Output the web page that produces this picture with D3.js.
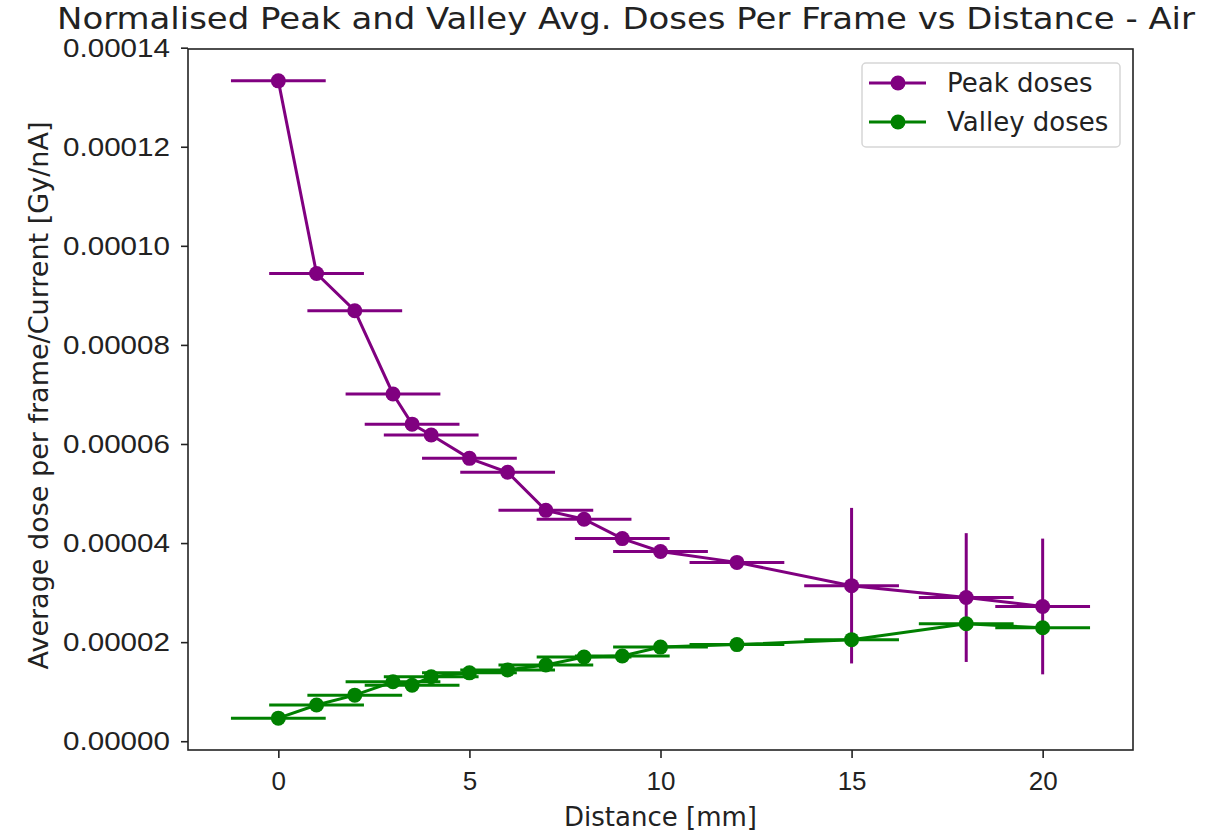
<!DOCTYPE html>
<html>
<head>
<meta charset="utf-8">
<script src="https://cdn.jsdelivr.net/npm/d3@7"></script>
<style>
  html, body { margin: 0; padding: 0; background: #fff; }
  svg { display: block; font-family: 'DejaVu Sans', sans-serif; }
  .tick text { font-size: 26px; fill: #222; }
</style>
</head>
<body>
<div id="chart"></div>
<script>
// distance (mm) and normalised doses
const distance   = [0, 1, 2, 3, 3.5, 4, 5, 6, 7, 8, 9, 10, 12, 15, 18, 20];
const distErr    = [1.24, 1.24, 1.24, 1.24, 1.24, 1.24, 1.24, 1.24, 1.24, 1.24, 1.24, 1.24, 1.24, 1.24, 1.24, 1.24];
const peakDose   = [1.333e-4, 9.44e-5, 8.69e-5, 7.01e-5, 6.40e-5, 6.18e-5, 5.71e-5, 5.43e-5,
                    4.66e-5, 4.48e-5, 4.09e-5, 3.83e-5, 3.61e-5, 3.14e-5, 2.90e-5, 2.72e-5];
const peakErr    = [0, 0, 0, 0, 0, 0, 0, 0, 0, 0, 0, 0, 0, 1.57e-5, 1.30e-5, 1.37e-5];
const valleyDose = [4.66e-6, 7.3e-6, 9.3e-6, 1.20e-5, 1.13e-5, 1.30e-5, 1.38e-5, 1.44e-5,
                    1.54e-5, 1.70e-5, 1.72e-5, 1.90e-5, 1.95e-5, 2.05e-5, 2.37e-5, 2.29e-5];
const valleyErr  = [0, 0, 0, 0, 0, 0, 0, 0, 0, 0, 0, 0, 0, 0, 0, 0];
const xTicks = [0, 5, 10, 15, 20];
const yTicks = [0, 2e-5, 4e-5, 6e-5, 8e-5, 1e-4, 1.2e-4, 1.4e-4];

const W = 1223, H = 834;
const frame = { left: 188, right: 1133, top: 49, bottom: 750 };

const series = [
  { name: 'Peak doses',   color: 'purple', y: peakDose,   e: peakErr },
  { name: 'Valley doses', color: 'green',  y: valleyDose, e: valleyErr }
].map(s => ({
  ...s,
  pts: distance.map((d, i) => ({ x: d, xe: distErr[i], y: s.y[i], ye: s.e[i] }))
}));

/* ─── scales (matplotlib style 5% margins) ─────────────────────────── */
const allPts = series.flatMap(s => s.pts);
const xMin = d3.min(allPts, p => p.x - p.xe), xMax = d3.max(allPts, p => p.x + p.xe);
const yMin = d3.min(allPts, p => p.y - p.ye), yMax = d3.max(allPts, p => p.y + p.ye);
const xPad = (xMax - xMin) * 0.05, yPad = (yMax - yMin) * 0.05;

const x = d3.scaleLinear().domain([xMin - xPad, xMax + xPad]).range([frame.left, frame.right]);
const y = d3.scaleLinear().domain([yMin - yPad, yMax + yPad]).range([frame.bottom, frame.top]);

const svg = d3.select('#chart').append('svg')
  .attr('width', W).attr('height', H);

/* ─── axes ─────────────────────────────────────────────────────────── */
svg.append('g')
  .attr('transform', `translate(0,${frame.bottom})`)
  .call(d3.axisBottom(x).tickValues(xTicks).tickSize(8).tickPadding(14).tickFormat(d3.format('d')))
  .call(g => g.select('.domain').remove())
  .call(g => g.selectAll('.tick line').attr('stroke', '#222').attr('stroke-width', 1.6));

svg.append('g')
  .attr('transform', `translate(${frame.left},0)`)
  .call(d3.axisLeft(y).tickValues(yTicks).tickSize(7).tickPadding(11).tickFormat(d3.format('.5f')))
  .call(g => g.select('.domain').remove())
  .call(g => g.selectAll('.tick line').attr('stroke', '#222').attr('stroke-width', 1.6))
  .call(g => g.selectAll('.tick text').attr('textLength', 107).attr('lengthAdjust', 'spacingAndGlyphs'));

/* ─── error bars, lines, markers ───────────────────────────────────── */
const line = d3.line().x(p => x(p.x)).y(p => y(p.y));

series.forEach(s => {
  const g = svg.append('g');
  g.selectAll('line.xe').data(s.pts).join('line')
    .attr('x1', p => x(p.x - p.xe)).attr('x2', p => x(p.x + p.xe))
    .attr('y1', p => y(p.y)).attr('y2', p => y(p.y))
    .attr('stroke', s.color).attr('stroke-width', 3);
  g.selectAll('line.ye').data(s.pts.filter(p => p.ye > 0)).join('line')
    .attr('x1', p => x(p.x)).attr('x2', p => x(p.x))
    .attr('y1', p => y(p.y - p.ye)).attr('y2', p => y(p.y + p.ye))
    .attr('stroke', s.color).attr('stroke-width', 3);
  g.append('path').datum(s.pts)
    .attr('d', line).attr('fill', 'none')
    .attr('stroke', s.color).attr('stroke-width', 3);
  g.selectAll('circle').data(s.pts).join('circle')
    .attr('cx', p => x(p.x)).attr('cy', p => y(p.y)).attr('r', 7.5)
    .attr('fill', s.color);
});

/* ─── frame ────────────────────────────────────────────────────────── */
svg.append('rect')
  .attr('x', frame.left).attr('y', frame.top)
  .attr('width', frame.right - frame.left).attr('height', frame.bottom - frame.top)
  .attr('fill', 'none').attr('stroke', '#222').attr('stroke-width', 1.6);

/* ─── texts ────────────────────────────────────────────────────────── */
svg.append('text')
  .attr('x', 626).attr('y', 29)
  .attr('text-anchor', 'middle').attr('font-size', 30).attr('fill', '#222')
  .attr('textLength', 1138).attr('lengthAdjust', 'spacingAndGlyphs')
  .text('Normalised Peak and Valley Avg. Doses Per Frame vs Distance - Air');

svg.append('text')
  .attr('x', (frame.left + frame.right) / 2).attr('y', 826)
  .attr('text-anchor', 'middle').attr('font-size', 26).attr('fill', '#222')
  .text('Distance [mm]');

svg.append('text')
  .attr('transform', `translate(48,${(frame.top + frame.bottom) / 2 - 4}) rotate(-90)`)
  .attr('text-anchor', 'middle').attr('font-size', 26).attr('fill', '#222')
  .attr('textLength', 548).attr('lengthAdjust', 'spacingAndGlyphs')
  .text('Average dose per frame/Current [Gy/nA]');

/* ─── legend ───────────────────────────────────────────────────────── */
const legend = svg.append('g').attr('transform', 'translate(862,63)');
legend.append('rect')
  .attr('width', 258).attr('height', 84).attr('rx', 4)
  .attr('fill', 'rgba(255,255,255,0.8)').attr('stroke', '#d6d6d6').attr('stroke-width', 1.5);

series.forEach((s, i) => {
  const row = legend.append('g').attr('transform', `translate(0,${20 + i * 39})`);
  row.append('line').attr('x1', 7).attr('x2', 64).attr('y1', 0).attr('y2', 0)
    .attr('stroke', s.color).attr('stroke-width', 3);
  row.append('circle').attr('cx', 36).attr('cy', 0).attr('r', 7.5).attr('fill', s.color);
  row.append('text').attr('x', 85).attr('y', 9)
    .attr('font-size', 26).attr('fill', '#222').text(s.name);
});
</script>
</body>
</html>
